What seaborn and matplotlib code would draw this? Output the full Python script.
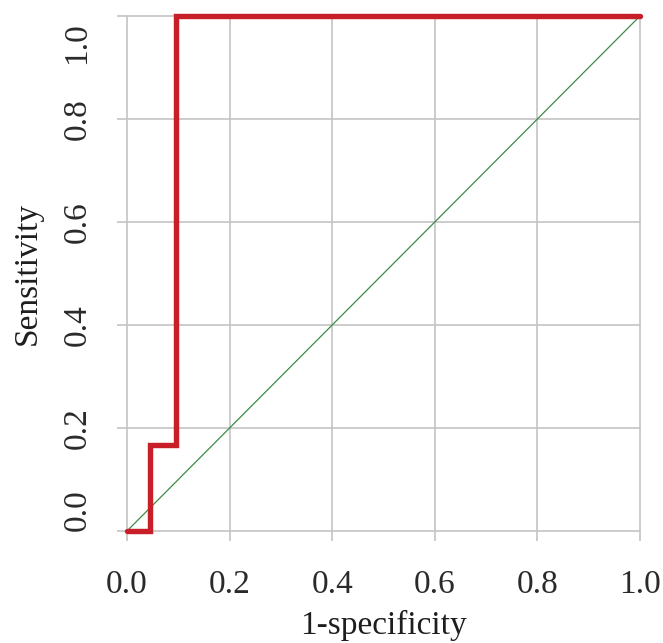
import matplotlib
matplotlib.use("Agg")
import matplotlib.pyplot as plt
import matplotlib.transforms as mtransforms
import seaborn as sns
import pandas as pd

# ROC curve data
fpr = [0.0, 0.045, 0.045, 0.095, 0.095, 1.0]
tpr = [0.0, 0.0, 0.167, 0.167, 1.0, 1.0]
diag = [0.0, 1.0]
ticks = [0.0, 0.2, 0.4, 0.6, 0.8, 1.0]
tick_labels = ["0.0", "0.2", "0.4", "0.6", "0.8", "1.0"]

sns.set_theme(style="white")
plt.rcParams["font.family"] = ["Liberation Serif", "DejaVu Serif"]

fig = plt.figure(figsize=(6.63, 6.43), dpi=100)
ax = fig.add_axes([127 / 663, 1 - 531 / 643, 513 / 663, 515 / 643])

grid_col = "#c4c4c4"
for t in ticks:
    ax.axvline(t, color=grid_col, lw=1.2, zorder=0, clip_on=False)
    ax.axhline(t, color=grid_col, lw=1.2, zorder=0, clip_on=False)

df_roc = pd.DataFrame({"fpr": fpr, "tpr": tpr})
df_diag = pd.DataFrame({"x": diag, "y": diag})
sns.lineplot(data=df_diag, x="x", y="y", ax=ax, color="#3d8a45", lw=0.9,
             sort=False, estimator=None, zorder=2)
sns.lineplot(data=df_roc, x="fpr", y="tpr", ax=ax, color="#c81e28", lw=3.9,
             sort=False, estimator=None, zorder=3, solid_joinstyle="miter")
for ln in ax.lines:
    ln.set_clip_on(False)

ax.set_xlim(0, 1)
ax.set_ylim(0, 1)
ax.set_xticks(ticks)
ax.set_xticklabels(tick_labels)
ax.set_yticks(ticks)
ax.set_yticklabels(tick_labels, rotation=90, va="center")
for s in ax.spines.values():
    s.set_visible(False)
ax.tick_params(axis="both", which="major", length=7, width=1.2, color=grid_col,
               direction="out", labelsize=24, labelcolor="#2a2a2a", bottom=True, left=True)
ax.tick_params(axis="x", pad=21)
ax.tick_params(axis="y", pad=18)

ylabs = ax.get_yticklabels()
ylabs[0].set_va("bottom")
ylabs[-1].set_va("top")
ylabs[-1].set_transform(ylabs[-1].get_transform() +
                        mtransforms.ScaledTranslation(0, -6 / 100, fig.dpi_scale_trans))

ax.set_xlabel("1-specificity", fontsize=24, color="#1e1e1e")
ax.xaxis.set_label_coords(0.5, (531 - 625) / 515)
ax.xaxis.label.set_va("center")
ax.set_ylabel("Sensitivity", fontsize=24, color="#1e1e1e")
ax.yaxis.set_label_coords((27 - 127) / 513, 0.5)
ax.yaxis.label.set_va("center")

fig.savefig("out.png", dpi=100)
